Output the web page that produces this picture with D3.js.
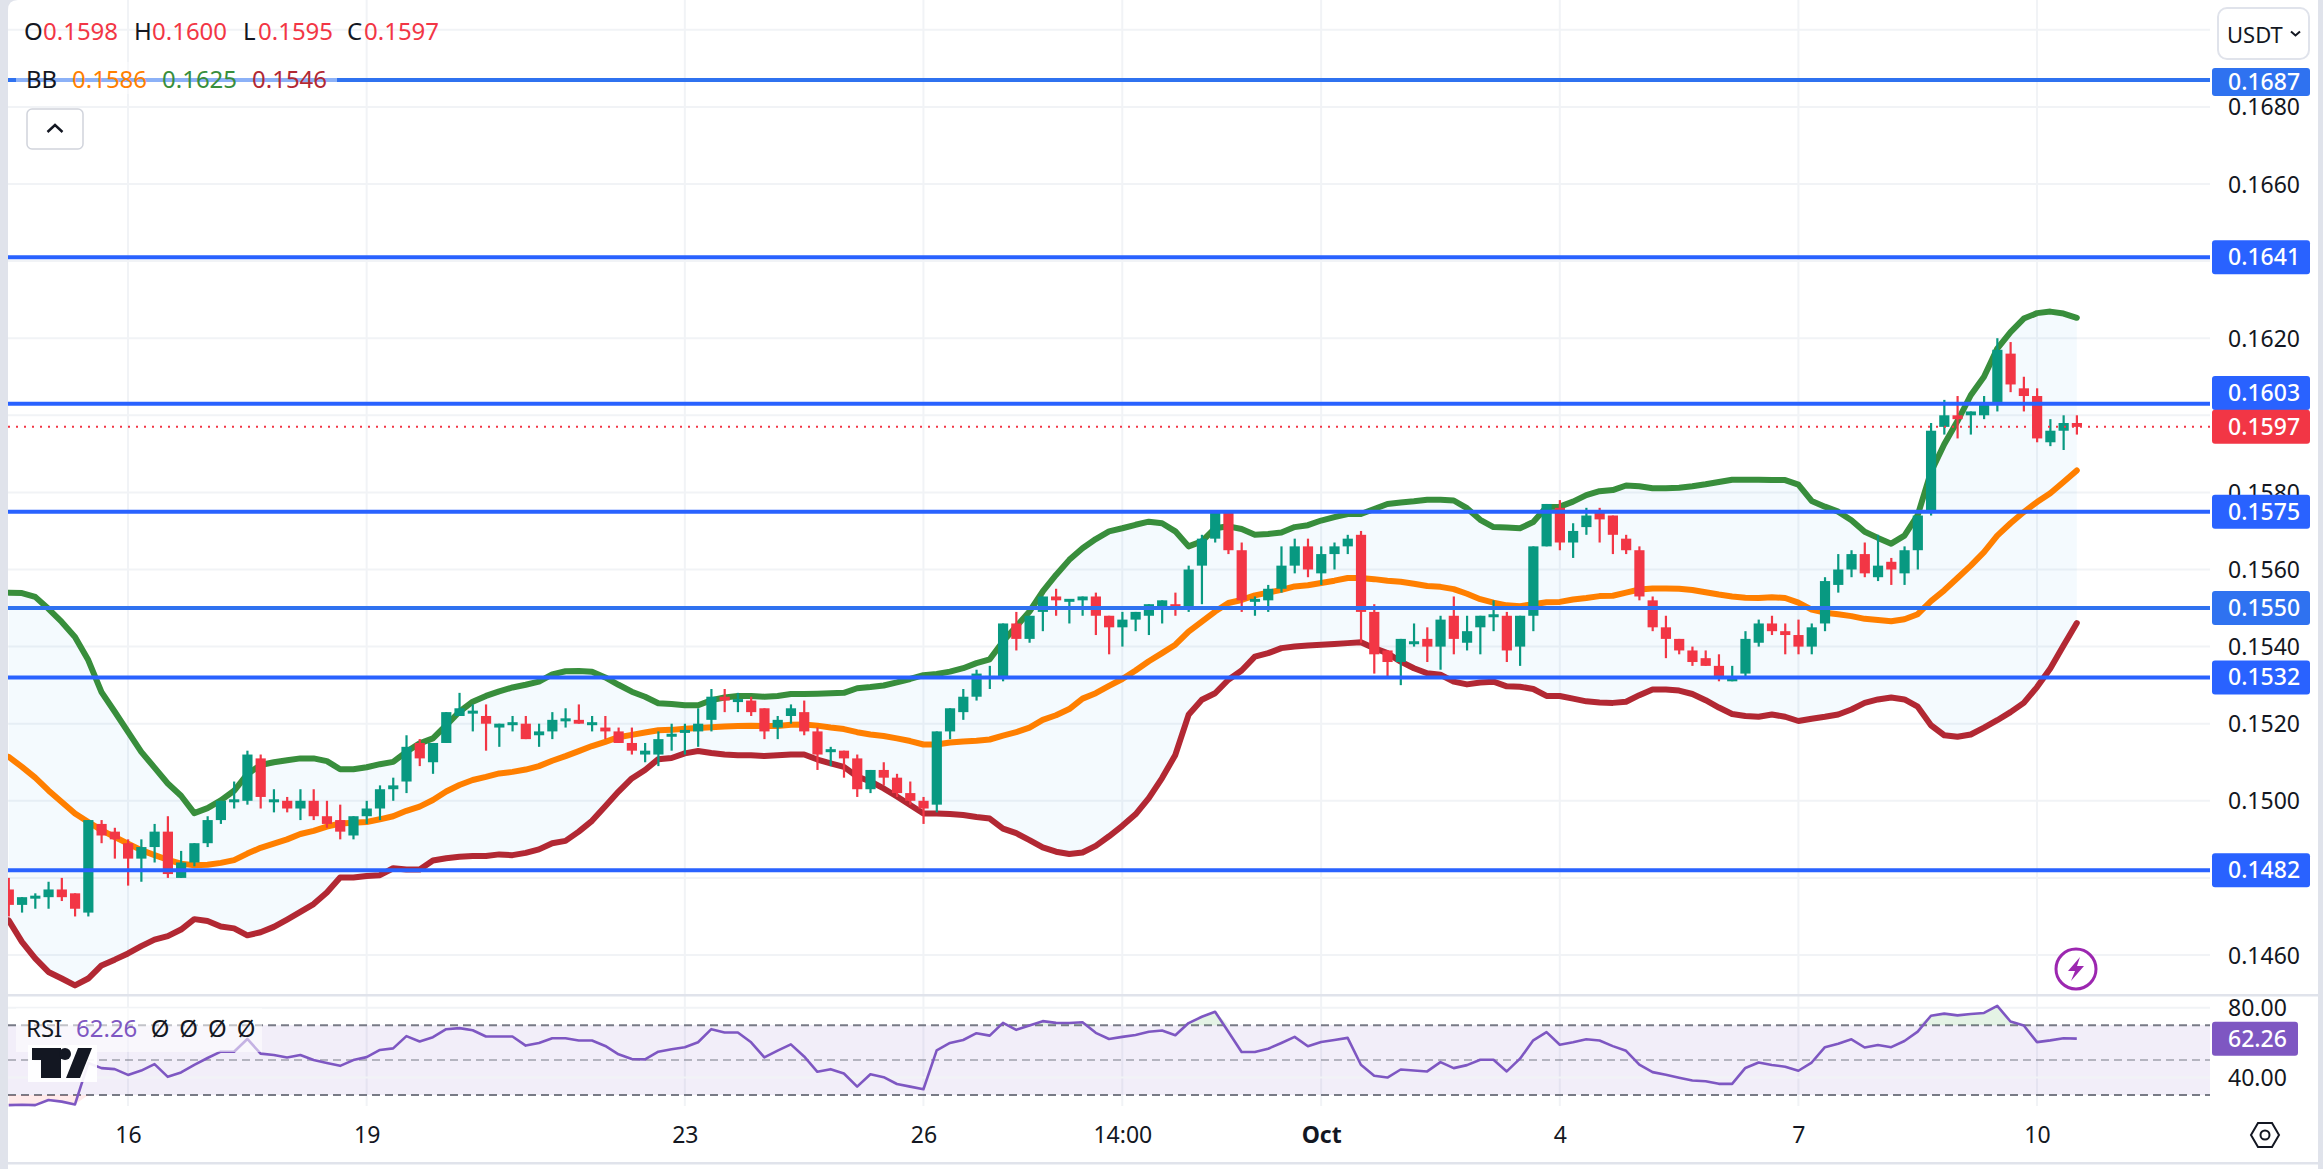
<!DOCTYPE html>
<html>
<head>
<meta charset="utf-8">
<script src="https://cdn.jsdelivr.net/npm/d3@7"></script>
<style>
  body { margin: 0; background: #fff; }
  text { font-family: "Noto Sans", sans-serif; }
</style>
</head>
<body>
<div id="chart"></div>
<script>
// candles, oldest first
const opens = [.1477,.1473,.1475,.1475,.1477,.1476,.1471,.1494,.1492,.1489,.1485,.1488,.1492,.1480,.1484,.1489,.1495,.1500,.1500,.1511,
  .1500,.1500,.1498,.1500,.1496,.1495,.1491,.1496,.1498,.1503,.1505,.1515,.1510,.1515,.1522,.1523,.1522,.1519,.1520,.1520,
  .1517,.1518,.1521,.1521,.1520,.1519,.1518,.1515,.1512,.1512,.1517,.1518,.1518,.1521,.1527,.1526,.1526,.1524,.1519,.1522,
  .1523,.1518,.1513,.1513,.1511,.1503,.1508,.1506,.1502,.1500,.1499,.1518,.1523,.1527,.1532,.1532,.1546,.1542,.1549,.1553,
  .1552,.1552,.1553,.1548,.1545,.1547,.1548,.1550,.1551,.1550,.1561,.1568,.1575,.1565,.1552,.1552,.1555,.1561,.1566,.1559,
  .1564,.1566,.1569,.1549,.1539,.1536,.1541,.1542,.1540,.1548,.1541,.1545,.1548,.1548,.1540,.1548,.1566,.1576,.1567,.1571,
  .1575,.1574,.1568,.1565,.1552,.1545,.1542,.1539,.1537,.1535,.1531,.1533,.1541,.1546,.1544,.1543,.1540,.1546,.1556,.1560,
  .1564,.1558,.1562,.1559,.1565,.1575,.1597,.1600,.1600,.1600,.1603,.1616,.1607,.1605,.1593,.1596,.1598];
const highs = [.1480,.1475,.1476,.1479,.1480,.1476,.1495,.1495,.1493,.1490,.1490,.1494,.1496,.1487,.1489,.1496,.1500,.1505,.1513,.1512,
  .1503,.1501,.1503,.1503,.1500,.1499,.1496,.1500,.1504,.1506,.1517,.1516,.1515,.1523,.1528,.1525,.1525,.1520,.1522,.1522,
  .1520,.1523,.1524,.1525,.1522,.1522,.1519,.1519,.1515,.1518,.1520,.1520,.1524,.1529,.1529,.1528,.1527,.1524,.1522,.1525,
  .1526,.1519,.1514,.1513,.1512,.1508,.1510,.1507,.1505,.1501,.1518,.1524,.1529,.1534,.1535,.1546,.1549,.1548,.1553,.1555,
  .1552,.1553,.1554,.1548,.1549,.1549,.1551,.1552,.1554,.1561,.1569,.1575,.1575,.1567,.1553,.1556,.1566,.1568,.1568,.1566,
  .1567,.1569,.1570,.1551,.1539,.1542,.1546,.1545,.1548,.1553,.1548,.1548,.1552,.1549,.1548,.1566,.1577,.1578,.1572,.1576,
  .1576,.1574,.1569,.1566,.1553,.1548,.1542,.1540,.1539,.1538,.1535,.1544,.1547,.1548,.1546,.1547,.1546,.1558,.1564,.1565,
  .1567,.1569,.1563,.1566,.1574,.1598,.1604,.1605,.1601,.1605,.1620,.1619,.1610,.1607,.1599,.1600,.1600];
const lows = [.1470,.1471,.1472,.1472,.1474,.1470,.1470,.1489,.1485,.1478,.1479,.1484,.1480,.1480,.1483,.1488,.1494,.1498,.1499,.1498,
  .1497,.1497,.1495,.1495,.1493,.1490,.1490,.1494,.1495,.1500,.1502,.1509,.1507,.1515,.1522,.1518,.1513,.1514,.1518,.1516,
  .1514,.1516,.1519,.1520,.1518,.1516,.1515,.1512,.1510,.1509,.1513,.1512,.1514,.1518,.1523,.1523,.1522,.1516,.1516,.1520,
  .1517,.1508,.1509,.1506,.1501,.1502,.1504,.1501,.1499,.1494,.1497,.1516,.1521,.1526,.1529,.1531,.1539,.1541,.1544,.1548,
  .1546,.1548,.1543,.1538,.1540,.1544,.1543,.1546,.1548,.1549,.1551,.1567,.1564,.1549,.1548,.1549,.1554,.1559,.1558,.1556,
  .1560,.1564,.1541,.1533,.1532,.1530,.1540,.1536,.1534,.1538,.1539,.1538,.1544,.1536,.1535,.1544,.1566,.1565,.1563,.1569,
  .1567,.1564,.1564,.1552,.1544,.1537,.1538,.1535,.1535,.1531,.1531,.1532,.1540,.1543,.1538,.1538,.1538,.1544,.1554,.1558,
  .1558,.1557,.1556,.1556,.1560,.1574,.1595,.1594,.1595,.1599,.1601,.1606,.1601,.1593,.1592,.1591,.1595];
const closes = [.1473,.1475,.1475,.1477,.1475,.1472,.1495,.1491,.1490,.1485,.1488,.1492,.1481,.1484,.1489,.1495,.1500,.1500,.1512,.1501,
  .1500,.1498,.1500,.1496,.1494,.1492,.1496,.1498,.1503,.1504,.1514,.1511,.1515,.1523,.1524,.1523,.1520,.1520,.1520,.1516,
  .1518,.1521,.1521,.1520,.1520,.1518,.1515,.1513,.1513,.1516,.1517,.1518,.1520,.1527,.1526,.1526,.1523,.1518,.1521,.1524,
  .1518,.1512,.1513,.1511,.1503,.1508,.1506,.1502,.1500,.1498,.1518,.1524,.1527,.1533,.1532,.1546,.1542,.1548,.1553,.1552,
  .1552,.1553,.1548,.1545,.1547,.1549,.1551,.1552,.1550,.1560,.1568,.1575,.1565,.1552,.1552,.1555,.1561,.1566,.1560,.1564,
  .1566,.1568,.1549,.1538,.1536,.1542,.1541,.1540,.1547,.1542,.1544,.1548,.1548,.1539,.1548,.1566,.1577,.1567,.1570,.1574,
  .1573,.1569,.1565,.1553,.1545,.1542,.1539,.1536,.1535,.1532,.1532,.1542,.1546,.1544,.1543,.1540,.1545,.1557,.1560,.1564,
  .1559,.1561,.1560,.1565,.1574,.1596,.1600,.1599,.1601,.1603,.1617,.1608,.1605,.1594,.1596,.1598,.1597];

// bollinger bands, one value per candle
const bbUpper = [.1554,.15539,.15529,.15498,.15464,.15425,.15365,.15282,.15231,.15179,.15127,.15086,.15045,.15013,.14968,.14981,.15001,.15026,.15069,.15093,
  .15100,.15105,.15110,.15110,.15103,.15082,.15082,.15087,.15095,.15101,.15127,.15149,.15162,.15196,.15231,.15257,.15272,.15284,.15294,.15301,
  .15309,.15328,.15336,.15337,.15335,.15320,.15301,.15283,.15270,.15253,.15251,.15248,.15248,.15261,.15268,.15272,.15272,.15270,.15272,.15277,
  .15277,.15278,.15279,.15280,.15292,.15295,.15299,.15307,.15316,.15326,.15329,.15335,.15344,.15357,.15367,.15413,.15452,.15491,.15543,.15586,
  .15625,.15655,.15679,.15699,.15707,.15716,.15724,.15720,.15699,.15660,.15673,.15707,.15712,.15705,.15690,.15692,.15696,.15710,.15715,.15727,
  .15736,.15744,.15744,.15757,.15770,.15774,.15777,.15781,.15781,.15779,.15759,.15729,.15710,.15709,.15707,.15723,.15762,.15763,.15776,.15793,
  .15803,.15806,.15818,.15816,.15811,.15811,.15812,.15816,.15821,.15827,.15833,.15833,.15833,.15832,.15832,.15820,.15778,.15763,.15750,.15728,
  .15698,.15682,.15667,.15688,.15741,.15853,.15925,.15985,.16052,.16100,.16173,.16216,.16251,.16265,.16269,.16264,.16253];
const bbBasis = [.15114,.15088,.15060,.15027,.14997,.14967,.14945,.14924,.14906,.14889,.14872,.14859,.14847,.14837,.14833,.14834,.14839,.14846,.14863,.14878,
  .14889,.14900,.14914,.14922,.14933,.14941,.14943,.14945,.14952,.14960,.14974,.14985,.15002,.15024,.15041,.15054,.15062,.15071,.15075,.15081,
  .15090,.15104,.15116,.15129,.15142,.15153,.15165,.15171,.15177,.15183,.15184,.15187,.15189,.15191,.15193,.15194,.15195,.15194,.15194,.15197,
  .15198,.15195,.15190,.15186,.15178,.15172,.15168,.15162,.15155,.15146,.15146,.15151,.15154,.15156,.15159,.15169,.15178,.15190,.15210,.15222,
  .15238,.15265,.15279,.15298,.15316,.15338,.15362,.15383,.15405,.15439,.15465,.15491,.15513,.15521,.15533,.15540,.15547,.15556,.15559,.15565,
  .15571,.15578,.15578,.15575,.15571,.15568,.15563,.15557,.15555,.15549,.15537,.15523,.15514,.15507,.15505,.15510,.15515,.15516,.15522,.15526,
  .15531,.15532,.15540,.15548,.15551,.15551,.15550,.15547,.15541,.15535,.15530,.15527,.15526,.15528,.15526,.15514,.15496,.15488,.15484,.15479,
  .15472,.15469,.15466,.15471,.15484,.15518,.15546,.15578,.15610,.15645,.15688,.15720,.15749,.15775,.15798,.15827,.15857];
const bbLower = [.14690,.14634,.14591,.14556,.14539,.14521,.14539,.14573,.14588,.14604,.14623,.14640,.14649,.14666,.14693,.14688,.14674,.14669,.14651,.14659,
  .14673,.14692,.14712,.14732,.14762,.14801,.14801,.14805,.14807,.14825,.14822,.14822,.14845,.14851,.14855,.14857,.14857,.14861,.14859,.14865,
  .14874,.14890,.14896,.14920,.14948,.14986,.15024,.15058,.15080,.15108,.15111,.15123,.15129,.15124,.15120,.15118,.15118,.15116,.15118,.15120,
  .15120,.15107,.15097,.15088,.15063,.15050,.15032,.15011,.14989,.14967,.14967,.14966,.14963,.14958,.14954,.14928,.14916,.14898,.14879,.14868,
  .14862,.14866,.14883,.14908,.14935,.14965,.15007,.15059,.15119,.15223,.15262,.15279,.15314,.15338,.15374,.15383,.15396,.15400,.15403,.15405,
  .15407,.15409,.15411,.15396,.15383,.15361,.15344,.15331,.15327,.15309,.15302,.15307,.15309,.15297,.15296,.15290,.15272,.15272,.15265,.15258,
  .15255,.15254,.15257,.15274,.15289,.15289,.15286,.15277,.15261,.15242,.15225,.15220,.15218,.15224,.15218,.15207,.15213,.15218,.15224,.15237,
  .15254,.15263,.15268,.15263,.15244,.15196,.15170,.15166,.15172,.15190,.15209,.15230,.15254,.15295,.15343,.15403,.15461];

const rsiValues = [24.2,24.4,24.2,27.1,26.2,24.6,48.3,45.4,44.8,41.5,44,47.7,40.4,42.9,47.3,51.2,54.8,54.8,62.1,53.7,
  52.9,51.5,52.9,50,48.3,46.7,50,51.7,55.8,56.7,63.7,60.6,63.1,67.7,68.3,67.1,63.5,63.5,63.5,58.3,
  59.8,62.5,62.5,61.2,61.2,58.1,53.3,50.6,50.4,54.8,56.2,57.3,60.2,67.7,65.8,65.8,60.2,51.5,55.4,59,
  52.1,43.3,44.8,42.3,34.8,41.9,40.2,36.3,34.8,33.3,55.6,59.8,61.5,65.4,64,71.3,67.3,69.8,72.3,71.3,
  71.2,71.7,65.6,62.1,63.3,64.4,66.2,66.9,64.2,71.2,74.8,77.7,66.2,54.6,54.6,56.5,59.8,63.3,57.9,60.4,
  61.5,62.7,47.3,41,40,44.6,44,43.5,48.8,45.4,47.1,50.2,50.2,43.5,50.8,61.3,66,58.8,60.2,61.9,
  61.2,58,55.3,47.4,43.1,41.6,39.9,38.3,37.9,36.4,36.4,45.5,48.6,47.2,46.2,43.9,48.6,57.4,59.4,61.9,
  57.2,58.6,57.4,60.9,66.3,75.4,76.6,75.6,76.4,77,81,72.1,69.8,60.3,61.3,62.5,62.26];

const levels = [0.1687, 0.1641, 0.1603, 0.1575, 0.1550, 0.1532, 0.1482];
const gridPrices = [0.1460,0.1480,0.1500,0.1520,0.1540,0.1560,0.1580,0.1600,0.1620,0.1640,0.1660,0.1680,0.1700];
// the other ticks sit fully under the level labels
const priceTicks = [0.1460,0.1500,0.1520,0.1540,0.1560,0.1580,0.1620,0.1660,0.1680];
const rsiTicks = [40, 80];
const rsiBands = [70, 50, 30];
const timeTickIdx = [9, 27, 51, 69, 84, 99, 117, 135, 153];
const timeTickLabels = ["16", "19", "23", "26", "14:00", "Oct", "4", "7", "10"];
const lastPrice = 0.1597, lastRsi = 62.26;

const W = 2323, H = 1169;
const left = 8, right = 2210;
const green = "#089981", red = "#f23645", blue = "#2962ff", blue2 = "#2f72f0";
const gridCol = "#f1f3f6", sepCol = "#e0e3eb", textCol = "#131722";
const colUpper = "#388e3c", colBasis = "#ff7f00", colLower = "#b22833", colRsi = "#7e57c2";

const x = d3.scaleLinear().domain([0, 156]).range([8.7, 2076.8]);
const y = d3.scaleLinear().domain([0.146, 0.17]).range([955, 29.8]);
const yRsi = d3.scaleLinear().domain([30, 80]).range([1095, 1007.7]);

const svg = d3.select("#chart").append("svg").attr("width", W).attr("height", H).style("display", "block");
svg.append("defs").append("clipPath").attr("id", "pane")
  .append("rect").attr("x", left).attr("y", 0).attr("width", right - left).attr("height", 995);

// vertical grid
svg.append("g").selectAll("line").data(timeTickIdx).join("line")
  .attr("x1", d => x(d)).attr("x2", d => x(d)).attr("y1", 0).attr("y2", 1106)
  .attr("stroke", gridCol).attr("stroke-width", 2);
// horizontal grid
svg.append("g").selectAll("line").data(gridPrices).join("line")
  .attr("x1", left).attr("x2", right).attr("y1", d => y(d)).attr("y2", d => y(d))
  .attr("stroke", gridCol).attr("stroke-width", 2);

const pane = svg.append("g").attr("clip-path", "url(#pane)");

// bollinger fill + lines
pane.append("path").datum(d3.range(opens.length))
  .attr("d", d3.area().x(i => x(i)).y0(i => y(bbLower[i])).y1(i => y(bbUpper[i])))
  .attr("fill", "rgba(33,150,243,0.05)");
[[bbUpper, colUpper], [bbBasis, colBasis], [bbLower, colLower]].forEach(([vals, col]) => {
  pane.append("path").datum(vals)
    .attr("d", d3.line().x((d, i) => x(i)).y(d => y(d)))
    .attr("fill", "none").attr("stroke", col).attr("stroke-width", 6)
    .attr("stroke-linejoin", "round").attr("stroke-linecap", "round");
});

// horizontal levels
svg.append("g").selectAll("line").data(levels).join("line")
  .attr("x1", left).attr("x2", right).attr("y1", d => y(d)).attr("y2", d => y(d))
  .attr("stroke", d => (d === 0.1687 || d === 0.1550) ? blue2 : blue).attr("stroke-width", 4);

// candles
const candles = pane.append("g").selectAll("g").data(d3.range(opens.length)).join("g")
  .attr("fill", i => closes[i] >= opens[i] ? green : red);
candles.append("rect")
  .attr("x", i => x(i) - 1).attr("width", 2.2)
  .attr("y", i => y(highs[i])).attr("height", i => y(lows[i]) - y(highs[i]));
candles.append("rect")
  .attr("x", i => x(i) - 5).attr("width", 10.2)
  .attr("y", i => y(Math.max(opens[i], closes[i])) - (opens[i] === closes[i] ? 1.5 : 0))
  .attr("height", i => Math.max(3, Math.abs(y(opens[i]) - y(closes[i]))));

// last price line
svg.append("line").attr("x1", left).attr("x2", right).attr("y1", y(lastPrice)).attr("y2", y(lastPrice))
  .attr("stroke", red).attr("stroke-width", 2).attr("stroke-dasharray", "2 6");

// price axis
const priceAxis = d3.axisRight(y).tickValues(priceTicks).tickSize(0).tickFormat(d3.format(".4f"));
const pa = svg.append("g").attr("transform", `translate(${2228},0)`).call(priceAxis);
pa.select(".domain").remove();
pa.selectAll("text").attr("x", 0).attr("font-size", 23).attr("fill", textCol).attr("dy", "0.35em")
  .style("font-family", '"Noto Sans", sans-serif');

// level labels
function priceLabel(val, col, top, h) {
  svg.append("rect").attr("x", 2212).attr("y", top).attr("width", 98).attr("height", h).attr("rx", 3).attr("fill", col);
  svg.append("text").attr("x", 2228).attr("y", top + h / 2).attr("dy", "0.35em")
    .attr("font-size", 23).attr("font-weight", 500).attr("fill", "#fff").text(val.toFixed(4));
}
levels.forEach(v => {
  let top = y(v) - 17, h = 34;
  if (v === 0.1687) { top = 68; h = 28; }
  if (v === 0.1603) { top = 376; }
  priceLabel(v, (v === 0.1687 || v === 0.1550) ? blue2 : blue, top, h);
});
priceLabel(lastPrice, red, y(lastPrice) - 17, 34);

// pane separators + page frame
svg.append("rect").attr("x", left).attr("y", 994).attr("width", W - left - 5).attr("height", 2.5).attr("fill", sepCol);
svg.append("rect").attr("x", left).attr("y", 1162).attr("width", W - left - 5).attr("height", 2.5).attr("fill", sepCol);

// RSI pane
svg.append("rect").attr("x", left).attr("width", right - left)
  .attr("y", yRsi(70)).attr("height", yRsi(30) - yRsi(70)).attr("fill", "rgba(126,87,194,0.1)");
svg.append("g").selectAll("line").data(rsiTicks).join("line")
  .attr("x1", left).attr("x2", right).attr("y1", d => yRsi(d)).attr("y2", d => yRsi(d))
  .attr("stroke", gridCol).attr("stroke-width", 2);
svg.append("g").selectAll("line").data(rsiBands).join("line")
  .attr("x1", left).attr("x2", right).attr("y1", d => yRsi(d)).attr("y2", d => yRsi(d))
  .attr("stroke", "#787b86").attr("stroke-width", 2).attr("stroke-dasharray", "8 5")
  .attr("opacity", d => d === 50 ? 0.5 : 1);
svg.append("path").datum(rsiValues)
  .attr("d", d3.area().x((d, i) => x(i)).y0(yRsi(70)).y1(d => Math.min(yRsi(d), yRsi(70))))
  .attr("fill", "rgba(76,175,80,0.15)");
svg.append("path").datum(rsiValues)
  .attr("d", d3.area().x((d, i) => x(i)).y0(yRsi(30)).y1(d => Math.max(yRsi(d), yRsi(30))))
  .attr("fill", "rgba(255,82,82,0.12)");
svg.append("path").datum(rsiValues)
  .attr("d", d3.line().x((d, i) => x(i)).y(d => yRsi(d)))
  .attr("fill", "none").attr("stroke", colRsi).attr("stroke-width", 2.6).attr("stroke-linejoin", "round");

const ra = svg.append("g").attr("transform", "translate(2228,0)")
  .call(d3.axisRight(yRsi).tickValues(rsiTicks).tickSize(0).tickFormat(d3.format(".2f")));
ra.select(".domain").remove();
ra.selectAll("text").attr("x", 0).attr("font-size", 23).attr("fill", textCol).attr("dy", "0.35em")
  .style("font-family", '"Noto Sans", sans-serif');
svg.append("rect").attr("x", 2212).attr("y", yRsi(lastRsi) - 17).attr("width", 86).attr("height", 34).attr("rx", 3).attr("fill", colRsi);
svg.append("text").attr("x", 2228).attr("y", yRsi(lastRsi)).attr("dy", "0.35em")
  .attr("font-size", 23).attr("font-weight", 500).attr("fill", "#fff").text(lastRsi.toFixed(2));

// time axis
const ta = svg.append("g").attr("transform", "translate(0,1135)")
  .call(d3.axisBottom(x).tickValues(timeTickIdx).tickSize(0).tickFormat((d, i) => timeTickLabels[i]));
ta.select(".domain").remove();
ta.selectAll("text").attr("y", 0).attr("dy", "0.35em").attr("font-size", 23).attr("fill", textCol)
  .attr("font-weight", d => d === 99 ? 700 : 400)
  .style("font-family", '"Noto Sans", sans-serif');

// page edges
svg.append("path").attr("d", `M0 0H${left + 10}Q${left} 0 ${left} 10V${H}H0Z`).attr("fill", sepCol);
svg.append("rect").attr("x", W - 5).attr("y", 0).attr("width", 5).attr("height", H).attr("fill", sepCol);

// legends
svg.append("rect").attr("x", 16).attr("y", 62).attr("width", 321).attr("height", 32).attr("fill", "rgba(255,255,255,0.45)");
function seg(parts, yPos, fs) {
  parts.forEach(([tx, px, col]) => {
    svg.append("text").attr("x", px).attr("y", yPos).attr("font-size", fs).attr("fill", col).text(tx);
  });
}
seg([["O", 24, textCol], ["0.1598", 43, red], ["H", 134, textCol], ["0.1600", 152, red],
     ["L", 243, textCol], ["0.1595", 258, red], ["C", 347, textCol], ["0.1597", 364, red]], 40, 24);
seg([["BB", 26, textCol], ["0.1586", 72, colBasis], ["0.1625", 162, colUpper], ["0.1546", 252, colLower]], 88, 24);

// collapse button
svg.append("rect").attr("x", 27).attr("y", 109).attr("width", 56).attr("height", 40).attr("rx", 5)
  .attr("fill", "#fff").attr("stroke", "#d1d4dc").attr("stroke-width", 1.5);
svg.append("path").attr("d", "M47.5 132L55 125L62.5 132").attr("fill", "none").attr("stroke", textCol).attr("stroke-width", 2.4);

// currency button
svg.append("rect").attr("x", 2218).attr("y", 8).attr("width", 91).attr("height", 51).attr("rx", 9)
  .attr("fill", "#fff").attr("stroke", sepCol).attr("stroke-width", 2);
svg.append("text").attr("x", 2227).attr("y", 43).attr("font-size", 22).attr("fill", textCol).text("USDT");
svg.append("path").attr("d", "M2291 31.5L2295.5 35.5L2300 31.5").attr("fill", "none").attr("stroke", textCol).attr("stroke-width", 2);

// RSI legend
svg.append("rect").attr("x", 16).attr("y", 1008).attr("width", 246).attr("height", 44).attr("fill", "rgba(255,255,255,0.55)");
seg([["RSI", 26, textCol], ["62.26", 76, colRsi]], 1037, 24);
d3.range(4).forEach(i => {
  svg.append("text").attr("x", 160 + i * 28.7).attr("y", 1037).attr("font-size", 24).attr("text-anchor", "middle").attr("fill", textCol).text("Ø");
});

// logo
const logo = svg.append("g");
logo.append("rect").attr("x", 28).attr("y", 1045).attr("width", 69).attr("height", 37).attr("fill", "#fff").attr("opacity", 0.92);
logo.append("path").attr("fill", textCol)
  .attr("d", "M32 1048H61V1078H41V1060H32ZM78 1048H92L80 1078H66Z");
logo.append("circle").attr("cx", 65).attr("cy", 1054).attr("r", 6).attr("fill", textCol);

// bolt badge
const bolt = svg.append("g").attr("transform", "translate(2076,969)");
bolt.append("circle").attr("r", 20).attr("fill", "#fff").attr("stroke", "#9c27b0").attr("stroke-width", 3);
bolt.append("path").attr("fill", "#9c27b0").attr("d", "M4 -12L-8 2H-1L-5 12L8 -3H1Z");

// settings
const gear = svg.append("g").attr("transform", "translate(2265,1135)").attr("fill", "none").attr("stroke", textCol).attr("stroke-width", 2);
gear.append("path").attr("d", "M-14 0L-7 -12H7L14 0L7 12H-7Z");
gear.append("circle").attr("r", 4.5);
</script>
</body>
</html>
